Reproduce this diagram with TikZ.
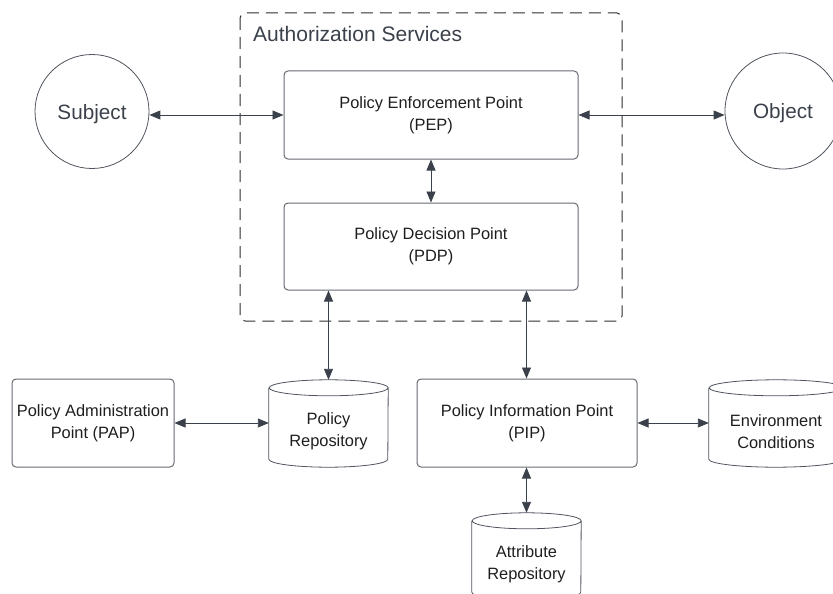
\documentclass[tikz,border=0pt]{standalone}
\usepackage{fontspec}
\setmainfont{Liberation Sans}
\usetikzlibrary{arrows.meta}

\definecolor{slate}{HTML}{3B414B}
\definecolor{edge}{HTML}{666A70}
\definecolor{ink}{HTML}{1E1E1E}
\definecolor{frame}{HTML}{2A2C30}

% outline of a vertical cylinder around a named rectangle node
\newcommand\drawcyl[2]{%
  \draw[cylline] ([yshift=-8pt]#1.north west) -- ([yshift=8pt]#1.south west)
    arc[start angle=180,end angle=360,x radius=#2,y radius=8pt]
    -- ([yshift=-8pt]#1.north east)
    arc[start angle=0,end angle=180,x radius=#2,y radius=8pt]
    arc[start angle=180,end angle=360,x radius=#2,y radius=8pt];
}

\begin{document}
\begin{tikzpicture}[x=1pt,y=-1pt,
  boxtext/.style={font=\fontsize{16.4}{22}\selectfont, text=ink, align=center},
  procbox/.style={boxtext, draw=edge, line width=1pt, rounded corners=4pt,
    minimum height=88pt, inner sep=0pt},
  actor/.style={circle, draw=slate!90, line width=0.8pt, inner sep=0pt,
    font=\fontsize{20.7}{24}\selectfont, text=slate},
  cylbox/.style={rectangle, draw=none, minimum height=87pt, inner sep=0pt},
  cyltext/.style={boxtext, yshift=-8pt},
  cylline/.style={draw=slate!90, line width=0.8pt},
  link/.style={draw=slate, line width=0.9pt, {Triangle[length=11pt,width=9pt]}-{Triangle[length=11pt,width=9pt]}},
  groupframe/.style={draw=frame, line width=1pt, dash pattern=on 12pt off 7pt, rounded corners=5pt}
]
\useasboundingbox (0,0) rectangle (833,594);

% service group
\draw[groupframe] (240,13) rectangle (622,321);
\node[anchor=base west, font=\fontsize{21}{24}\selectfont, text=slate, inner sep=0pt]
  (grouptitle) at (253,42) {Authorization Services};

% actors
\node[actor, minimum size=114pt, text depth=-1.5pt] (subj) at (92,111.5) {Subject};
\node[actor, minimum size=116pt, text depth=-1.5pt] (obj) at (783,111) {Object};

% decision and enforcement points
\node[procbox, minimum width=294pt] (pep) at (431,115) {Policy Enforcement Point\\(PEP)};
\node[procbox, minimum width=294pt, minimum height=87pt] (pdp) at (431,246.5) {Policy Decision Point\\(PDP)};
\node[procbox, minimum width=162pt] (pap) at (93,423) {Policy Administration\\Point (PAP)};
\node[procbox, minimum width=220pt] (pip) at (527,423) {Policy Information Point\\(PIP)};

% stores
\node[cylbox, minimum width=119pt, label={[cyltext]center:Policy\\Repository}] (repo) at (328.5,423.5) {};
\node[cylbox, minimum width=134pt, label={[cyltext]center:Environment\\Conditions}] (env) at (776,423.5) {};
\node[cylbox, minimum width=109pt, label={[cyltext]center:Attribute\\Repository}] (attr) at (526.5,556.5) {};
\drawcyl{repo}{59.5pt}
\drawcyl{env}{67pt}
\drawcyl{attr}{54.5pt}

% connectors
\draw[link] (pep.west -| subj.east) -- (pep.west);
\draw[link] (pep.east) -- (pep.east -| obj.west);
\draw[link] (pep.south) -- (pdp.north);
\draw[link] (pdp.south -| repo.north) -- (repo.north);
\draw[link] (pdp.south -| attr.north) -- (attr.north |- pip.north);
\draw[link] (pap.east) -- (pap.east -| repo.west);
\draw[link] (pip.east) -- (pip.east -| env.west);
\draw[link] (pip.south -| attr.north) -- (attr.north);
\end{tikzpicture}
\end{document}
